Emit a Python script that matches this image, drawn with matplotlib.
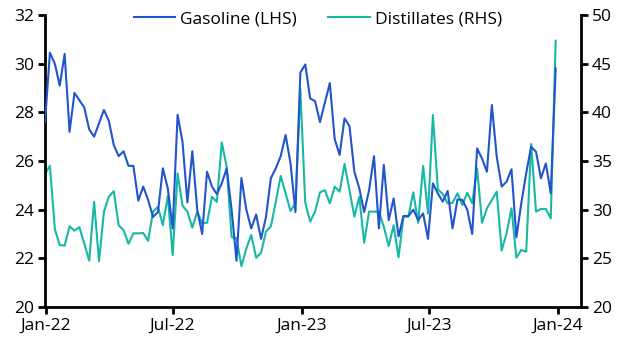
import numpy as np
import pandas as pd
import matplotlib
matplotlib.use("Agg")
import matplotlib.pyplot as plt
import matplotlib.dates as mdates

plt.rcParams['font.family'] = ['Open Sans', 'DejaVu Sans']

# weekly crack spreads, $/bbl
dates = pd.date_range("2021-12-31", periods=105, freq="7D")

gasoline = [
    27.6, 30.45, 30.0, 29.1, 30.4, 27.2, 28.8, 28.5, 28.2, 27.3,
    27.0, 27.55, 28.1, 27.65, 26.66, 26.2, 26.4, 25.8, 25.8, 24.37,
    24.95, 24.4, 23.7, 23.9, 25.7, 24.88, 23.23, 27.9, 26.8, 24.3,
    26.4, 24.0, 23.0, 25.56, 24.95, 24.64, 25.08, 25.7, 24.0, 21.9,
    25.3, 24.0, 23.23, 23.8, 22.8, 23.7, 25.3, 25.7, 26.2, 27.07,
    25.9, 23.9, 29.63, 29.97, 28.57, 28.46, 27.6, 28.4, 29.2, 26.9,
    26.25, 27.75, 27.44, 25.56, 24.88, 23.9, 24.8, 26.2, 23.23, 25.84,
    23.57, 24.46, 22.9, 23.74, 23.74, 24.0, 23.57, 23.85, 22.8, 25.08,
    24.67, 24.33, 24.77, 23.23, 24.42, 24.4, 24.0, 23.0, 26.52, 26.1,
    25.56, 28.3, 26.17, 24.95, 25.15, 25.66, 22.86, 24.26, 25.5, 26.59,
    26.38, 25.29, 25.9, 24.67, 29.8,
]

distillates = [
    33.7, 34.5, 28.0, 26.37, 26.3, 28.3, 27.84, 28.2, 26.5, 24.76,
    30.8, 24.7, 29.8, 31.33, 31.9, 28.4, 27.9, 26.5, 27.57, 27.57,
    27.6, 26.8, 29.8, 30.3, 28.4, 31.4, 25.34, 33.73, 30.4, 29.8,
    28.15, 29.8, 28.6, 28.65, 31.33, 30.8, 36.9, 34.4, 27.2, 27.05,
    24.2, 26.0, 27.4, 25.06, 25.58, 27.74, 28.3, 30.8, 33.46, 31.68,
    29.86, 30.65, 42.4, 30.72, 28.77, 29.8, 31.78, 32.0, 30.65, 32.36,
    31.85, 34.7, 32.0, 29.28, 31.33, 26.6, 29.8, 29.8, 29.8, 28.25,
    26.27, 28.4, 25.1, 29.28, 29.28, 31.78, 28.66, 34.5, 29.6, 39.73,
    32.1, 31.6, 30.65, 30.7, 31.68, 30.48, 31.74, 30.65, 34.24, 28.66,
    30.14, 31.0, 31.85, 25.8, 27.57, 30.14, 25.06, 25.86, 25.68, 36.75,
    29.8, 30.07, 30.07, 29.1, 47.36,
]

blue = "#2254cc"
teal = "#17b8a4"

fig = plt.figure(figsize=(6.26, 3.46), dpi=100)
ax = fig.add_axes([0.0719, 0.1127, 0.8561, 0.8439])
ax2 = ax.twinx()

ax.plot(dates, gasoline, color=blue, lw=1.5, label="Gasoline (LHS)", zorder=3)
ax2.plot(dates, distillates, color=teal, lw=1.5, label="Distillates (RHS)", zorder=2)
ax.set_zorder(ax2.get_zorder() + 1)
ax.patch.set_visible(False)

ax.set_ylim(20, 32)
ax.set_yticks(np.arange(20, 33, 2))
ax2.set_ylim(20, 50)
ax2.set_yticks(np.arange(20, 51, 5))

ax.set_xlim(pd.Timestamp("2021-12-31"), pd.Timestamp("2024-02-03"))
ax.xaxis.set_major_locator(mdates.MonthLocator(bymonth=[1, 7]))
ax.xaxis.set_major_formatter(mdates.DateFormatter("%b-%y"))

for a in (ax, ax2):
    a.spines["top"].set_visible(False)
    for s in ("left", "right", "bottom"):
        a.spines[s].set_linewidth(2)
        a.spines[s].set_color("black")
    a.tick_params(axis="both", which="major", length=5, width=2,
                  labelsize=12.5, pad=3, colors="black")

ax.spines["right"].set_visible(False)
ax2.spines["left"].set_visible(False)
ax2.spines["bottom"].set_visible(False)

h1, l1 = ax.get_legend_handles_labels()
h2, l2 = ax2.get_legend_handles_labels()
fig.legend(h1 + h2, l1 + l2, loc="center", bbox_to_anchor=(0.508, 0.945),
           ncol=2, frameon=False, fontsize=12.5, handlelength=2.4,
           handletextpad=0.3, columnspacing=1.8)

fig.savefig("out.png", dpi=100)
